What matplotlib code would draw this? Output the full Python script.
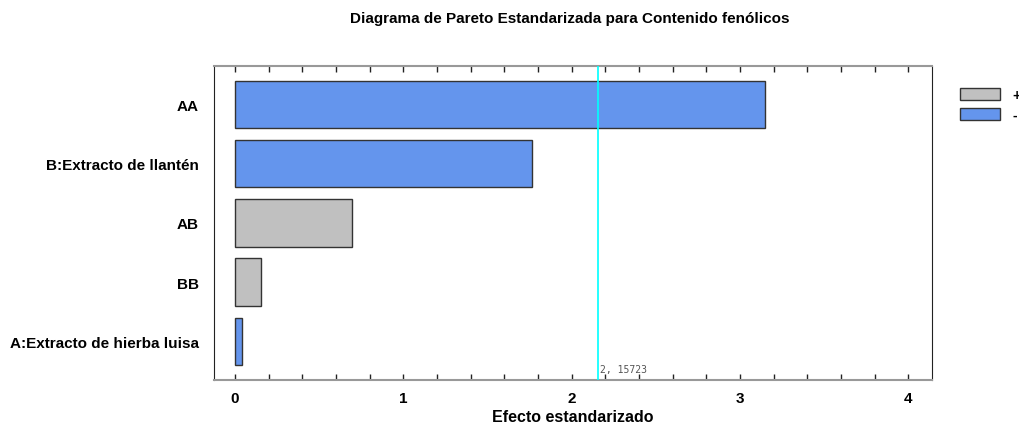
import matplotlib.pyplot as plt
from matplotlib.patches import Patch
from matplotlib.ticker import MultipleLocator

plt.rcParams['font.family'] = ['Liberation Sans', 'DejaVu Sans']

# Pareto chart data (top to bottom)
effects = ['AA', 'B:Extracto de llantén', 'AB', 'BB', 'A:Extracto de hierba luisa']
values = [3.15, 1.763, 0.694, 0.154, 0.04]
signs = ['-', '-', '+', '+', '-']
critical = 2.15723

COLOR_POS = '#c0c0c0'
COLOR_NEG = '#6495ed'

fig = plt.figure(figsize=(10.19, 4.27), dpi=100)
ax = fig.add_axes([0.210, 0.108, 0.7046, 0.735])

ypos = list(range(len(effects)))[::-1]
colors = [COLOR_POS if s == '+' else COLOR_NEG for s in signs]
ax.barh(ypos, values, height=0.8, left=0, color=colors,
        edgecolor='#333333', linewidth=1.0, zorder=2)

ax.axvline(critical, color='#00ffff', lw=1.2, zorder=3)
ax.text(critical + 0.01, -0.47, '2, 15723', fontsize=7,
        family='DejaVu Sans Mono', color='#555555', va='center', ha='left')

ax.set_xlim(-0.125, 4.14)
ax.set_ylim(-0.65, 4.65)
ax.set_yticks(ypos)
ax.set_yticklabels(effects, fontsize=11, fontweight='bold')
ax.set_xticks([0, 1, 2, 3, 4])
ax.set_xticklabels(['0', '1', '2', '3', '4'], fontsize=11, fontweight='bold')
ax.xaxis.set_minor_locator(MultipleLocator(0.2))
ax.tick_params(axis='y', length=0, pad=11)
ax.tick_params(axis='x', which='both', direction='in', length=4, width=1,
               top=True, bottom=True, pad=8, color='#222222')

ax.spines['top'].set_color('#999999')
ax.spines['bottom'].set_color('#999999')
ax.spines['top'].set_linewidth(1.5)
ax.spines['bottom'].set_linewidth(1.5)
ax.spines['left'].set_color('#222222')
ax.spines['right'].set_color('#222222')

ax.set_xlabel('Efecto estandarizado', fontsize=11.5, fontweight='bold', labelpad=3)
fig.text(0.559, 0.955, 'Diagrama de Pareto Estandarizada para Contenido fenólicos',
         fontsize=11, fontweight='bold', ha='center', va='center')

handles = [Patch(facecolor=COLOR_POS, edgecolor='#333333', label='+'),
           Patch(facecolor=COLOR_NEG, edgecolor='#333333', label='-')]
fig.legend(handles=handles, loc='upper left', bbox_to_anchor=(0.942, 0.792),
           frameon=False, handlelength=2.9, handleheight=0.95,
           labelspacing=0.45, borderpad=0, borderaxespad=0, handletextpad=0.9,
           prop={'weight': 'bold', 'size': 10})

fig.savefig('out.png', dpi=100)
